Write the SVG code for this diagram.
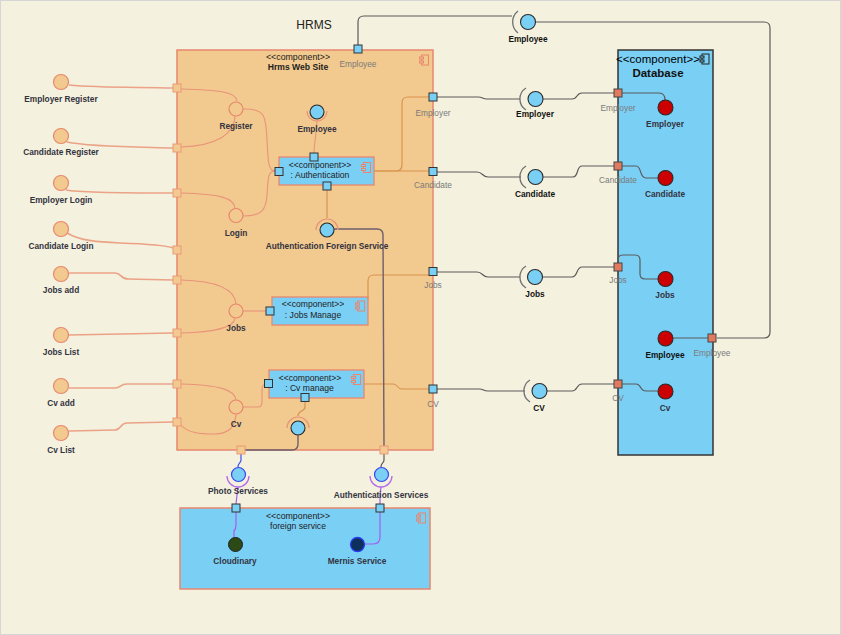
<svg xmlns="http://www.w3.org/2000/svg" xmlns:xlink="http://www.w3.org/1999/xlink" width="841" height="635" viewBox="0 0 841 635">
  <style>
    text { font-family: "Liberation Sans", Arial, sans-serif; text-anchor: middle; }
    .lbl { font-size: 8.3px; font-weight: bold; fill: #333340; }
    .lblk { font-size: 8.3px; font-weight: bold; fill: #111; }
    .plbl { font-size: 8.3px; fill: #7a7a7a; }
    .ctitle { font-size: 8.6px; font-weight: bold; fill: #222; }
    .ext { fill: none; stroke: #eba286; stroke-width: 1.6; }
    .inn { fill: none; stroke: #e8947a; stroke-width: 1.1; }
    .org { fill: none; stroke: #d8944e; stroke-width: 1.2; }
    .gry { fill: none; stroke: #5a5a5a; stroke-width: 1.2; }
    .dk { fill: none; stroke: #6e5f6c; stroke-width: 1.4; }
    .pur { fill: none; stroke: #a55cf0; stroke-width: 1.2; }
    .blu { fill: none; stroke: #3f4ff0; stroke-width: 1.2; }
    .sock { fill: none; stroke: #707070; stroke-width: 1.3; }
    .sockO { fill: none; stroke: #e8947a; stroke-width: 1.2; }
    .sockP { fill: none; stroke: #b46ae8; stroke-width: 1.3; }
    .ball { fill: #7acff5; stroke: #2a2a2a; stroke-width: 1.1; }
    .ballB { fill: #7acff5; stroke: #3a44f0; stroke-width: 1.2; }
    .req { fill: #f2c98e; stroke: #e8876e; stroke-width: 1.2; }
    .red { fill: #cc0000; stroke: #2a2a2a; stroke-width: 1.1; }
    .pB { fill: #7acff5; stroke: #333; stroke-width: 1; }
    .pO { fill: #f2c98e; stroke: #eb9a7a; stroke-width: 1; }
    .pR { fill: #e07b5f; stroke: #444; stroke-width: 1; }
  </style>
  <defs>
    <!-- UML component glyph: body with two tabs on the left -->
    <g id="cicon">
      <rect x="2" y="0" width="7" height="10"/>
      <rect x="0" y="2" width="4" height="2"/>
      <rect x="0" y="6" width="4" height="2"/>
    </g>
  </defs>

  <!-- canvas -->
  <rect x="0.5" y="0.5" width="840" height="634" fill="#f4f1df" stroke="#d6d6d6" stroke-width="1"/>
  <text x="314" y="29" style="font-size:12px;fill:#222">HRMS</text>

  <!-- containers -->
  <g id="hrms-website">
    <rect x="177" y="50" width="256" height="400" fill="#f2c98e" stroke="#e8876e" stroke-width="1.5"/>
    <use href="#cicon" x="419.5" y="55" fill="#f2c98e" stroke="#e8876e" stroke-width="1"/>
    <text x="298" y="59.5" class="ctitle" style="font-weight:normal;font-size:8.8px">&lt;&lt;component&gt;&gt;</text>
    <text x="298" y="69.5" class="ctitle">Hrms Web Site</text>
  </g>

  <g id="database">
    <rect x="618" y="50" width="95" height="405" fill="#7acff5" stroke="#333" stroke-width="1.5"/>
    <use href="#cicon" x="700" y="54" fill="#7acff5" stroke="#222" stroke-width="1"/>
    <text x="658" y="63" style="font-size:11.5px;fill:#000">&lt;&lt;component&gt;&gt;</text>
    <text x="658" y="77" style="font-size:11.5px;font-weight:bold;fill:#111">Database</text>
  </g>

  <g id="foreign-service">
    <rect x="180" y="508" width="250" height="81" fill="#7acff5" stroke="#e8876e" stroke-width="1.5"/>
    <use href="#cicon" x="416.5" y="513" fill="#7acff5" stroke="#e8876e" stroke-width="1"/>
    <text x="298" y="518.5" class="ctitle" style="font-weight:normal;font-size:8.8px">&lt;&lt;component&gt;&gt;</text>
    <text x="298" y="528.5" class="ctitle" style="font-weight:normal">foreign service</text>
  </g>

  <!-- inner components -->
  <g id="authentication">
    <rect x="279" y="157" width="95" height="28" fill="#7acff5" stroke="#e8876e" stroke-width="1.3"/>
    <use href="#cicon" x="361.5" y="162.5" fill="#7acff5" stroke="#e8876e" stroke-width="1"/>
    <text x="320" y="168" class="ctitle" style="font-weight:normal">&lt;&lt;component&gt;&gt;</text>
    <text x="320" y="178" class="ctitle" style="font-weight:normal">: Authentication</text>
  </g>
  <g id="jobs-manage">
    <rect x="272" y="297" width="96" height="28" fill="#7acff5" stroke="#e8876e" stroke-width="1.3"/>
    <use href="#cicon" x="355.5" y="301" fill="#7acff5" stroke="#e8876e" stroke-width="1"/>
    <text x="313" y="307" class="ctitle" style="font-weight:normal">&lt;&lt;component&gt;&gt;</text>
    <text x="313" y="317.5" class="ctitle" style="font-weight:normal">: Jobs Manage</text>
  </g>
  <g id="cv-manage">
    <rect x="269" y="370" width="95" height="28" fill="#7acff5" stroke="#e8876e" stroke-width="1.3"/>
    <use href="#cicon" x="351.5" y="374.5" fill="#7acff5" stroke="#e8876e" stroke-width="1"/>
    <text x="310" y="380.5" class="ctitle" style="font-weight:normal">&lt;&lt;component&gt;&gt;</text>
    <text x="309.5" y="390.5" class="ctitle" style="font-weight:normal">: Cv manage</text>
  </g>

  <!-- connectors -->
  <g id="connectors">
    <!-- external actors to website boundary -->
    <path class="ext" d="M69,85 C100,88 140,87 173,88"/>
    <path class="ext" d="M67,142 C90,147 140,147 173,148"/>
    <path class="ext" d="M66,190 C80,193 140,193 173,193"/>
    <path class="ext" d="M67,233 C80,241 100,242 120,243 C150,244 165,245 173,248"/>
    <path class="ext" d="M69,273 L115,273 C122,273 120,279 128,279 L173,280"/>
    <path class="ext" d="M69,335 L173,333"/>
    <path class="ext" d="M69,388 L115,388 C121,388 120,384 127,384 L173,384"/>
    <path class="ext" d="M69,431 L115,430 C121,430 120,423 127,423 L173,422"/>

    <!-- boundary ports to required interfaces -->
    <path class="inn" d="M181,89 C220,90 236,92 237,101"/>
    <path class="inn" d="M181,147 C215,146 234,135 235,116"/>
    <path class="inn" d="M243,109 C266,108 266,118 267,140 C268,160 268,171 275,171"/>
    <path class="inn" d="M181,193 C220,194 234,198 235,208"/>
    <path class="inn" d="M243,216 C262,216 266,210 267,195 C268,178 268,171 275,171"/>
    <path class="inn" d="M181,280 C220,281 235,290 236,304"/>
    <path class="inn" d="M181,333 C215,332 234,328 235,318"/>
    <path class="inn" d="M243,311 L266,311"/>
    <path class="inn" d="M181,384 C220,385 235,390 236,400"/>
    <path class="inn" d="M181,425 C188,433 200,434 214,434 C230,434 235,426 236,414"/>
    <path class="inn" d="M243,407 L258,407 Q262,407 262,402 L262,390 Q262,384 266,384"/>

    <!-- authentication wiring -->
    <path class="inn" d="M317,120 C317,135 314,140 314,153"/>
    <path class="org" d="M327,190 L327,218"/>
    <path class="org" d="M374,171 L396,171 Q402,171 402,165 L402,103 Q402,97 408,97 L429,97"/>
    <path class="org" d="M374,171 L429,171"/>
    <path class="org" d="M368,299 L368,281 Q368,275 374,275 L429,275"/>
    <path class="org" d="M364,384 L393,384 C398,384 397,389 402,389 L429,389"/>
    <path class="dk" d="M334,229 L377,229 Q383,229 383,235 L384,446"/>
    <path class="org" d="M305,402 L305,407 C305,412 298,410 298,416"/>
    <path class="dk" d="M298,435 L298,444 Q298,450 292,450 L245,450"/>

    <!-- website to database -->
    <path class="gry" d="M358,45 L358,22 Q358,16 364,16 L512,16"/>
    <path class="gry" d="M536,22 L764,22 Q770,22 770,28 L770,332 Q770,338 764,338 L717,338"/>
    <path class="gry" d="M437,97 L478,97 C483,97 482,99 487,99 L520,99"/>
    <path class="gry" d="M543,99 L572,99 C578,99 576,93 582,93 L614,93"/>
    <path class="gry" d="M437,172 L477,172 C483,172 482,177 488,177 L521,177"/>
    <path class="gry" d="M543,177 L573,177 C579,177 576,166 582,166 L614,166"/>
    <path class="gry" d="M437,272 L477,272 C483,272 482,277 488,277 L520,277"/>
    <path class="gry" d="M542,277 L572,277 C578,277 576,267 582,267 L614,267"/>
    <path class="gry" d="M437,389 L479,389 C484,389 483,391 488,391 L525,391"/>
    <path class="gry" d="M547,391 L572,391 C578,391 576,384 582,384 L614,384"/>

    <!-- database internals -->
    <path class="gry" d="M622,93 L659,93 Q665,93 665,100"/>
    <path class="gry" d="M622,166 L636,166 C642,166 639,178 646,178 L658,178"/>
    <path class="gry" d="M618,263 L618,260 Q618,255 623,255 L635,255 Q640,255 640,260 L640,274 Q640,279 645,279 L658,279"/>
    <path class="gry" d="M622,384 L636,384 C642,384 639,391 646,391 L658,391"/>
    <path class="gry" d="M672,338 L708,338"/>

    <!-- foreign services -->
    <path class="blu" d="M241,454 L241,460 C241,463 238,463 238,467"/>
    <path class="pur" d="M238,487 L237,495 L236,504"/>
    <path class="pur" d="M236,512 L236,525 Q236,529 234,531 L234,537"/>
    <path class="gry" d="M384,454 L384,460 C384,463 381,463 381,467"/>
    <path class="pur" d="M381,487 L380,495 L380,504"/>
    <path class="pur" d="M380,512 L380,537 Q380,544 373,544 L365,544"/>
  </g>

  <!-- boundary ports -->
  <g id="ports">
    <rect class="pO" x="173" y="84" width="8" height="8"/>
    <rect class="pO" x="173" y="144" width="8" height="8"/>
    <rect class="pO" x="173" y="189" width="8" height="8"/>
    <rect class="pO" x="173" y="246" width="8" height="8"/>
    <rect class="pO" x="173" y="276" width="8" height="8"/>
    <rect class="pO" x="173" y="329" width="8" height="8"/>
    <rect class="pO" x="173" y="380" width="8" height="8"/>
    <rect class="pO" x="173" y="418" width="8" height="8"/>
    <rect class="pO" x="237" y="446" width="8" height="8"/>
    <rect class="pO" x="380" y="446" width="8" height="8"/>

    <rect class="pB" x="354" y="45" width="8" height="8"/>
    <text x="358" y="66.5" class="plbl">Employee</text>
    <rect class="pB" x="429" y="93" width="8" height="8"/>
    <text x="433" y="115.5" class="plbl">Employer</text>
    <rect class="pB" x="429" y="167.5" width="8" height="8"/>
    <text x="433" y="188" class="plbl">Candidate</text>
    <rect class="pB" x="429" y="267.5" width="8" height="8"/>
    <text x="433" y="288" class="plbl">Jobs</text>
    <rect class="pB" x="429" y="385" width="8" height="8"/>
    <text x="433" y="406.5" class="plbl">CV</text>

    <rect class="pB" x="275" y="167.5" width="8" height="8"/>
    <rect class="pB" x="310" y="153" width="8" height="8"/>
    <rect class="pB" x="323" y="182" width="8" height="8"/>
    <rect class="pB" x="266" y="307" width="8" height="8"/>
    <rect class="pB" x="264.5" y="379.5" width="8" height="8"/>
    <rect class="pB" x="301" y="393.5" width="8" height="8"/>

    <rect class="pB" x="232" y="504" width="8" height="8"/>
    <rect class="pB" x="376" y="504" width="8" height="8"/>

    <rect class="pR" x="614" y="89" width="8" height="8"/>
    <text x="618" y="110.5" class="plbl">Employer</text>
    <rect class="pR" x="614" y="162" width="8" height="8"/>
    <text x="618" y="183" class="plbl">Candidate</text>
    <rect class="pR" x="614" y="263" width="8" height="8"/>
    <text x="618" y="283" class="plbl">Jobs</text>
    <rect class="pR" x="614" y="380" width="8" height="8"/>
    <text x="618" y="401" class="plbl">CV</text>
    <rect class="pR" x="708" y="334" width="8" height="8"/>
    <text x="712" y="355.5" class="plbl">Employee</text>
  </g>

  <!-- external actors -->
  <g id="employer-register"><circle class="req" cx="61" cy="82" r="7.5"/><text x="61" y="101.5" class="lbl">Employer Register</text></g>
  <g id="candidate-register"><circle class="req" cx="61" cy="136" r="7.5"/><text x="61" y="155" class="lbl">Candidate Register</text></g>
  <g id="employer-login"><circle class="req" cx="61" cy="183" r="7.5"/><text x="61" y="202.5" class="lbl">Employer Login</text></g>
  <g id="candidate-login"><circle class="req" cx="61" cy="229" r="7.5"/><text x="61" y="249" class="lbl">Candidate Login</text></g>
  <g id="jobs-add"><circle class="req" cx="61" cy="274" r="7.5"/><text x="61" y="293" class="lbl">Jobs add</text></g>
  <g id="jobs-list"><circle class="req" cx="61" cy="335" r="7.5"/><text x="61" y="355" class="lbl">Jobs List</text></g>
  <g id="cv-add"><circle class="req" cx="61" cy="386" r="7.5"/><text x="61" y="406" class="lbl">Cv add</text></g>
  <g id="cv-list"><circle class="req" cx="61" cy="433" r="7.5"/><text x="61" y="453" class="lbl">Cv List</text></g>

  <!-- website interfaces -->
  <g id="register"><circle class="req" cx="236" cy="109" r="7"/><text x="236" y="129" class="lbl">Register</text></g>
  <g id="login"><circle class="req" cx="236" cy="215.5" r="7"/><text x="236" y="235.5" class="lbl">Login</text></g>
  <g id="jobs"><circle class="req" cx="236" cy="311" r="7"/><text x="236" y="331" class="lbl">Jobs</text></g>
  <g id="cv"><circle class="req" cx="236" cy="407" r="7"/><text x="236" y="427" class="lbl">Cv</text></g>

  <g id="employee-inner">
    <path class="sockO" d="M307,111 A10,10 0 0 0 327,111"/>
    <circle class="ball" cx="317" cy="112" r="7"/>
    <text x="317" y="131.5" class="lbl">Employee</text>
  </g>
  <g id="auth-foreign-service">
    <path class="sockO" d="M316,230 A11,11 0 0 1 338,230"/>
    <circle class="ball" cx="327" cy="230" r="7"/>
    <text x="327" y="249" class="lbl">Authentication Foreign Service</text>
  </g>
  <g id="cv-foreign">
    <path class="sockO" d="M287,428 A11,11 0 0 1 309,428"/>
    <circle class="ball" cx="298" cy="428" r="7"/>
  </g>

  <!-- assembly interfaces -->
  <g id="employee-top">
    <path class="sock" d="M518,11 A14,14 0 0 0 518,33"/>
    <circle class="ball" cx="528" cy="22" r="7.5"/>
    <text x="528" y="42" class="lblk">Employee</text>
  </g>
  <g id="employer-if">
    <path class="sock" d="M526,88 A13,13 0 0 0 526,110"/>
    <circle class="ball" cx="535.5" cy="99" r="7.5"/>
    <text x="535" y="117" class="lblk">Employer</text>
  </g>
  <g id="candidate-if">
    <path class="sock" d="M526,166 A13,13 0 0 0 526,188"/>
    <circle class="ball" cx="535.5" cy="177" r="7.5"/>
    <text x="535" y="196.5" class="lblk">Candidate</text>
  </g>
  <g id="jobs-if">
    <path class="sock" d="M526,266 A13,13 0 0 0 526,288"/>
    <circle class="ball" cx="535" cy="277" r="7.5"/>
    <text x="535" y="297" class="lblk">Jobs</text>
  </g>
  <g id="cv-if">
    <path class="sock" d="M530,380 A13,13 0 0 0 530,402"/>
    <circle class="ball" cx="539.5" cy="391" r="7.5"/>
    <text x="539" y="411" class="lblk">CV</text>
  </g>

  <!-- database entities -->
  <g id="db-employer"><circle class="red" cx="665.5" cy="107.5" r="7.5"/><text x="665" y="127" class="lbl">Employer</text></g>
  <g id="db-candidate"><circle class="red" cx="665.5" cy="178" r="7.5"/><text x="665" y="197" class="lbl">Candidate</text></g>
  <g id="db-jobs"><circle class="red" cx="665.5" cy="279" r="7.5"/><text x="665" y="298" class="lbl">Jobs</text></g>
  <g id="db-employee"><circle class="red" cx="665.5" cy="338.5" r="7.5"/><text x="665" y="358" class="lblk">Employee</text></g>
  <g id="db-cv"><circle class="red" cx="665.5" cy="391.5" r="7.5"/><text x="665" y="411" class="lbl">Cv</text></g>

  <!-- foreign service interfaces -->
  <g id="photo-services">
    <path class="sockP" d="M227,476 A11,11 0 0 0 249,476"/>
    <circle class="ballB" cx="238.5" cy="474.5" r="7"/>
    <text x="238" y="494" class="lbl">Photo Services</text>
  </g>
  <g id="authentication-services">
    <path class="sockP" d="M370,476 A11,11 0 0 0 392,476"/>
    <circle class="ballB" cx="381.5" cy="474.5" r="7"/>
    <text x="381" y="498" class="lbl">Authentication Services</text>
  </g>
  <g id="cloudinary">
    <circle cx="235.5" cy="544.5" r="7" fill="#2b4a16" stroke="#1e1e1e" stroke-width="1"/>
    <text x="235" y="564" class="lbl">Cloudinary</text>
  </g>
  <g id="mernis-service">
    <circle cx="357.5" cy="544.5" r="7" fill="#0d2f5c" stroke="#2a3cf0" stroke-width="1.3"/>
    <text x="357" y="564" class="lbl">Mernis Service</text>
  </g>
</svg>
